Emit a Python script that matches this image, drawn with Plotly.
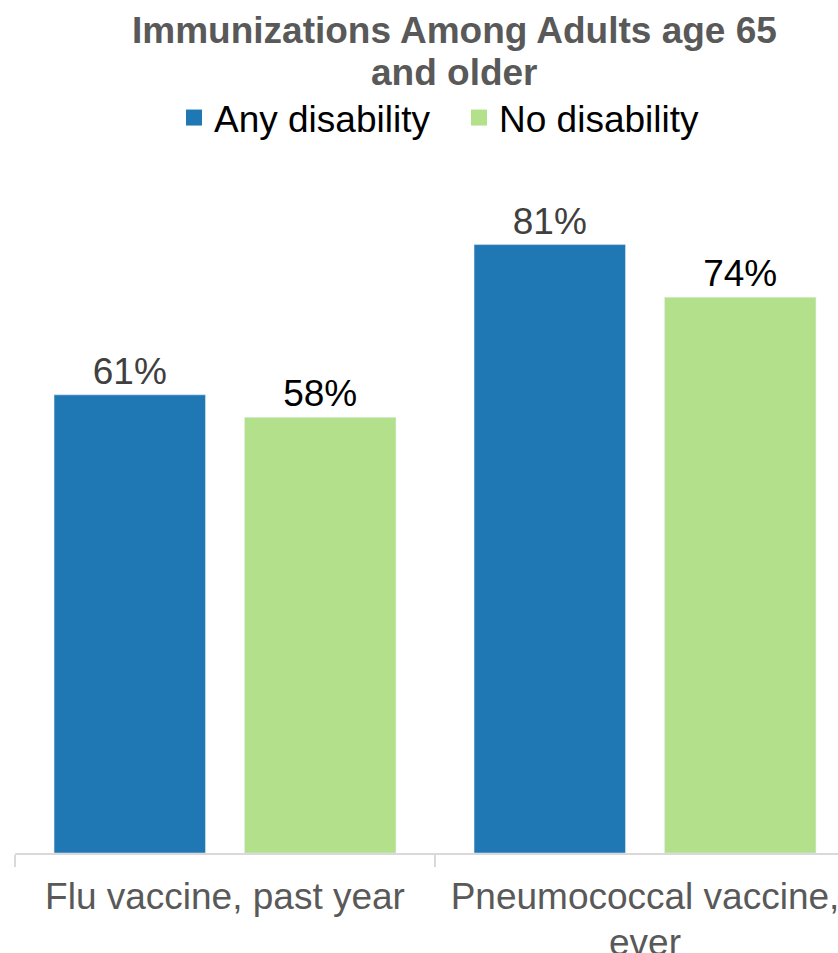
import plotly.graph_objects as go

categories = ["Flu vaccine, past year", "Pneumococcal vaccine, ever"]
tick_line1 = ["Flu vaccine, past year", "Pneumococcal vaccine,"]
tick_line2 = ["", "ever"]
any_disability = [61, 81]
no_disability = [58, 74]
series_names = ["Any disability", "No disability"]
title_lines = ["Immunizations Among Adults age 65", "and older"]
colors = ["#1F77B4", "#B3E08A"]

FONT = "Liberation Sans, Arial, sans-serif"
# the reference plot area runs slightly past the right edge of the 838px view
W, H = 855, 953
ML, MR, MT, MB = 15, 0, 177, 100
PW = W - ML - MR
PH = H - MT - MB

fig = go.Figure()
for vals, name, col, tcol in [(any_disability, series_names[0], colors[0], "#404040"),
                              (no_disability, series_names[1], colors[1], "#000000")]:
    fig.add_trace(go.Bar(
        x=categories, y=vals, name=name, showlegend=False,
        marker=dict(color=col),
        text=[f"{v}%" for v in vals],
        textposition="outside",
        textfont=dict(family=FONT, size=37, color=tcol),
        cliponaxis=False,
    ))
# legend entries with larger square swatches
for name, col in zip(series_names, colors):
    fig.add_trace(go.Scatter(
        x=[None], y=[None], mode="markers", name=name,
        marker=dict(symbol="square", size=20, color=col),
    ))

def py(px_from_top):
    return 1 + (MT - px_from_top) / PH

def px(px_from_left):
    return (px_from_left - ML) / PW

annotations = [
    dict(text=f"<b>{title_lines[0]}</b>", x=px(454), xref="paper", xanchor="center",
         y=py(30), yref="paper", yanchor="middle", showarrow=False,
         font=dict(family=FONT, size=37, color="#595959")),
    dict(text=f"<b>{title_lines[1]}</b>", x=px(454), xref="paper", xanchor="center",
         y=py(72), yref="paper", yanchor="middle", showarrow=False,
         font=dict(family=FONT, size=37, color="#595959")),
]
# second line of the category labels (tighter line spacing than plotly's default)
for cat, line2 in zip(categories, tick_line2):
    if line2:
        annotations.append(dict(
            text=line2, x=cat, xref="x", xanchor="center",
            y=py(943), yref="paper", yanchor="middle", showarrow=False,
            font=dict(family=FONT, size=37, color="#595959"),
        ))

fig.update_layout(
    width=W, height=H, autosize=False,
    paper_bgcolor="white", plot_bgcolor="white",
    margin=dict(l=ML, r=MR, t=MT, b=MB, autoexpand=False),
    barmode="group", bargap=0.093, bargroupgap=0.205,
    annotations=annotations,
    legend=dict(
        orientation="h", x=px(459), xanchor="center", xref="paper",
        y=py(118), yanchor="middle", yref="paper",
        font=dict(family=FONT, size=37, color="#000000"),
        traceorder="normal", itemclick=False, entrywidth=240,
    ),
    font=dict(family=FONT),
)
fig.update_xaxes(
    showline=True, linecolor="#D9D9D9", linewidth=2,
    ticks="outside", tickson="boundaries", ticklen=12, tickcolor="#D9D9D9", tickwidth=2,
    tickmode="array", tickvals=categories, ticktext=tick_line1,
    tickfont=dict(family=FONT, size=37, color="#595959"),
    ticklabelstandoff=10, automargin=False,
    showgrid=False, zeroline=False,
)
fig.update_yaxes(range=[0, 90], visible=False, showgrid=False, automargin=False)

fig.write_html(
    "out.html",
    config={"responsive": False, "displayModeBar": False},
    post_script="document.body.style.margin='0';document.body.style.overflow='hidden';",
)
